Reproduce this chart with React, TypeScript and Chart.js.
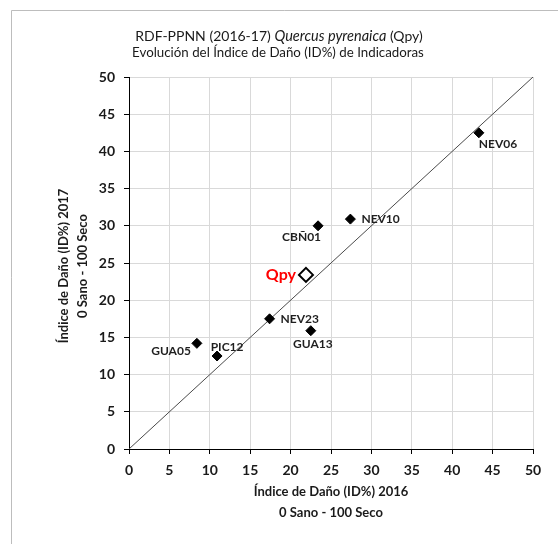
import React, { useEffect, useRef } from "react";
import { Chart, registerables } from "chart.js";

Chart.register(...registerables);

const indicatorNames = ["NEV06", "NEV10", "CBÑ01", "NEV23", "GUA13", "GUA05", "PIC12"];
const id2016 = [43.3, 27.4, 23.4, 17.4, 22.5, 8.4, 10.9];
const id2017 = [42.5, 30.9, 30.0, 17.5, 15.9, 14.2, 12.5];
const labelAnchors = ["belowRight", "right", "belowLeft", "right", "below", "leftBelow", "aboveRight"];

const speciesName = "Qpy";
const species2016 = [21.9];
const species2017 = [23.4];

const diagonalX = [0, 50];
const diagonalY = [0, 50];

const axisTicks = [0, 5, 10, 15, 20, 25, 30, 35, 40, 45, 50];

const titleLine1 = ["RDF-PPNN (2016-17) ", "Quercus pyrenaica", " (Qpy)"];
const titleLine2 = "Evolución del Índice de Daño (ID%) de Indicadoras";
const xTitle = ["Índice de Daño (ID%) 2016", "0 Sano - 100 Seco"];
const yTitle = ["Índice de Daño (ID%) 2017", "0 Sano - 100 Seco"];

const FONT = "Lato, 'Open Sans', sans-serif";

const decorPlugin = {
  id: "decor",
  beforeDraw(chart: any) {
    const ctx = chart.ctx;
    ctx.save();
    ctx.fillStyle = "#ffffff";
    ctx.fillRect(0, 0, chart.width, chart.height);
    ctx.strokeStyle = "#bdbdbd";
    ctx.lineWidth = 1;
    ctx.beginPath();
    ctx.moveTo(11.5, chart.height);
    ctx.lineTo(11.5, 10.5);
    ctx.lineTo(chart.width, 10.5);
    ctx.stroke();
    ctx.restore();
  },
  afterDraw(chart: any) {
    const ctx = chart.ctx;
    ctx.save();
    ctx.fillStyle = "#1a1a1a";
    ctx.textBaseline = "middle";
    // title line 1 with italic part
    const fonts = [
      `14px ${FONT}`,
      `italic 14.5px ${FONT}`,
      `14px ${FONT}`,
    ];
    let total = 0;
    const widths: number[] = [];
    titleLine1.forEach((t, i) => {
      ctx.font = fonts[i];
      const w = ctx.measureText(t).width;
      widths.push(w);
      total += w;
    });
    let x = 279 - total / 2;
    ctx.textAlign = "left";
    titleLine1.forEach((t, i) => {
      ctx.font = fonts[i];
      ctx.fillText(t, x, 36);
      x += widths[i];
    });
    ctx.font = `13.3px ${FONT}`;
    ctx.textAlign = "center";
    ctx.fillText(titleLine2, 278, 53);

    // x axis title
    ctx.font = `bold 13px ${FONT}`;
    ctx.fillText(xTitle[0], 331, 492);
    ctx.fillText(xTitle[1], 331, 513);

    // y axis title
    ctx.save();
    ctx.translate(64, 266);
    ctx.rotate(-Math.PI / 2);
    ctx.fillText(yTitle[0], 0, 0);
    ctx.fillText(yTitle[1], 0, 18.5);
    ctx.restore();

    // data labels
    const meta = chart.getDatasetMeta(1);
    ctx.font = `bold 12px ${FONT}`;
    ctx.fillStyle = "#1f1f1f";
    meta.data.forEach((pt: any, i: number) => {
      const a = labelAnchors[i];
      const name = indicatorNames[i];
      let dx = 0, dy = 0, align: CanvasTextAlign = "left";
      if (a === "belowRight") { dx = 0; dy = 11; align = "left"; }
      else if (a === "right") { dx = 11; dy = 0; align = "left"; }
      else if (a === "belowLeft") { dx = 3; dy = 11.5; align = "right"; }
      else if (a === "below") { dx = 2; dy = 13; align = "center"; }
      else if (a === "leftBelow") { dx = -6; dy = 8; align = "right"; }
      else if (a === "aboveRight") { dx = 10; dy = -9; align = "center"; }
      ctx.textAlign = align;
      ctx.fillText(name, pt.x + dx, pt.y + dy);
    });
    const qMeta = chart.getDatasetMeta(2);
    const q = qMeta.data[0];
    ctx.font = `bold 16px ${FONT}`;
    ctx.fillStyle = "#ff0000";
    ctx.textAlign = "right";
    ctx.fillText(speciesName, q.x - 10, q.y);
    ctx.restore();
  },
};

export default function App() {
  const ref = useRef<HTMLCanvasElement | null>(null);
  useEffect(() => {
    if (!ref.current) return;
    const tickFont = { family: FONT, size: 14, weight: "bold" as const };
    const chart = new Chart(ref.current, {
      type: "scatter",
      data: {
        datasets: [
          {
            type: "line",
            label: "1:1",
            data: diagonalX.map((v, i) => ({ x: v, y: diagonalY[i] })),
            borderColor: "#4a4a4a",
            borderWidth: 1,
            pointRadius: 0,
            fill: false,
            order: 3,
          } as any,
          {
            label: "Indicadoras",
            data: id2016.map((v, i) => ({ x: v, y: id2017[i] })),
            pointStyle: "rectRot",
            pointRadius: 5,
            backgroundColor: "#000000",
            borderColor: "#000000",
            borderWidth: 1,
            order: 2,
          },
          {
            label: speciesName,
            data: species2016.map((v, i) => ({ x: v, y: species2017[i] })),
            pointStyle: "rectRot",
            pointRadius: 7,
            backgroundColor: "#ffffff",
            borderColor: "#000000",
            borderWidth: 2,
            order: 1,
          },
        ],
      },
      options: {
        animation: false,
        responsive: false,
        maintainAspectRatio: false,
        layout: { padding: { left: 0, right: 25, top: 77, bottom: 0 } },
        plugins: {
          legend: { display: false },
          tooltip: { enabled: false },
          title: { display: false },
        },
        scales: {
          x: {
            type: "linear",
            min: 0,
            max: 50,
            afterBuildTicks: (s: any) => { s.ticks = axisTicks.map((v) => ({ value: v })); },
            afterFit: (s: any) => { s.height = 95; },
            ticks: { font: tickFont, color: "#1a1a1a", padding: 8, maxRotation: 0 },
            grid: { color: "#d9d9d9", tickColor: "#000000", tickLength: 5, lineWidth: 1 },
            border: { color: "#000000", width: 1 },
          },
          y: {
            type: "linear",
            min: 0,
            max: 50,
            afterBuildTicks: (s: any) => { s.ticks = axisTicks.map((v) => ({ value: v })); },
            afterFit: (s: any) => { s.width = 129; },
            ticks: { font: tickFont, color: "#1a1a1a", padding: 9 },
            grid: { color: "#d9d9d9", tickColor: "#000000", tickLength: 5, lineWidth: 1 },
            border: { color: "#000000", width: 1 },
          },
        },
      },
      plugins: [decorPlugin],
    });
    return () => chart.destroy();
  }, []);
  return (
    <div style={{ position: "fixed", left: 0, top: 0, width: 558, height: 544 }}>
      <canvas ref={ref} width={558} height={544} style={{ width: 558, height: 544 }} />
    </div>
  );
}
